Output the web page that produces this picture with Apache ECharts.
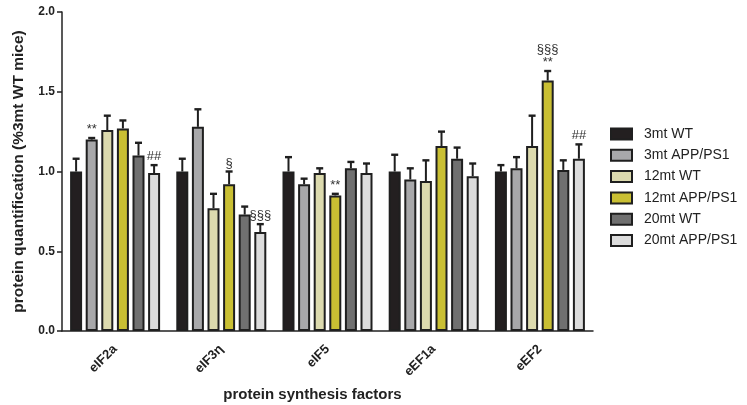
<!DOCTYPE html>
<html><head><meta charset="utf-8">
<script src="https://cdn.jsdelivr.net/npm/echarts@6/dist/echarts.min.js"></script>
<style>html,body{margin:0;padding:0;background:#fff}#c{width:747px;height:405px}</style>
</head><body><div id="c"></div>
<script>
const categories = ['eIF2a', 'eIF3η', 'eIF5', 'eEF1a', 'eEF2'];
const groups = ['3mt WT', '3mt APP/PS1', '12mt WT', '12mt APP/PS1', '20mt WT', '20mt APP/PS1'];
const values_3mtWT     = [1.00, 1.00, 1.00, 1.00, 1.00];
const values_3mtAPP    = [1.20, 1.28, 0.92, 0.95, 1.02];
const values_12mtWT    = [1.26, 0.77, 0.99, 0.94, 1.16];
const values_12mtAPP   = [1.27, 0.92, 0.85, 1.16, 1.57];
const values_20mtWT    = [1.10, 0.73, 1.02, 1.08, 1.01];
const values_20mtAPP   = [0.99, 0.62, 0.99, 0.97, 1.08];
const err_3mtWT   = [0.08, 0.08, 0.09, 0.105, 0.04];
const err_3mtAPP  = [0.01, 0.11, 0.035, 0.07, 0.07];
const err_12mtWT  = [0.09, 0.09, 0.03, 0.13, 0.19];
const err_12mtAPP = [0.05, 0.08, 0.01, 0.09, 0.06];
const err_20mtWT  = [0.08, 0.05, 0.04, 0.07, 0.06];
const err_20mtAPP = [0.05, 0.05, 0.06, 0.08, 0.09];
const notes_3mtWT   = ['', '', '', '', ''];
const notes_3mtAPP  = ['**', '', '', '', ''];
const notes_12mtWT  = ['', '', '', '', ''];
const notes_12mtAPP = ['', '§', '**', '', '§§§\n**'];
const notes_20mtWT  = ['', '', '', '', ''];
const notes_20mtAPP = ['##', '§§§', '', '', '##'];

const allValues = [values_3mtWT, values_3mtAPP, values_12mtWT, values_12mtAPP, values_20mtWT, values_20mtAPP];
const allErr = [err_3mtWT, err_3mtAPP, err_12mtWT, err_12mtAPP, err_20mtWT, err_20mtAPP];
const allNotes = [notes_3mtWT, notes_3mtAPP, notes_12mtWT, notes_12mtAPP, notes_20mtWT, notes_20mtAPP];
const colors = ['#231f20', '#a8a8aa', '#dcdaae', '#c9bf33', '#707070', '#dcdcdc'];
const FONT = '"Liberation Sans", Arial, sans-serif';

const BAR_W = 12, STEP = 15.6;
const series = [];
groups.forEach((g, i) => {
  series.push({
    name: g, type: 'bar', barWidth: BAR_W, barGap: ((STEP - BAR_W) / BAR_W * 100) + '%',
    itemStyle: { color: colors[i], borderColor: '#1f1f1f', borderWidth: 2 },
    data: allValues[i], z: 2
  });
});
groups.forEach((g, i) => {
  series.push({
    type: 'custom', z: 3, silent: true,
    data: categories.map((c, j) => [j, allValues[i][j], allErr[i][j]]),
    renderItem: function (params, api) {
      const j = api.value(0);
      const v = api.value(1), e = api.value(2);
      const note = allNotes[i][j];
      const p0 = api.coord([j, v]);
      const p1 = api.coord([j, v + e]);
      const x = p0[0] + (i - 2.5) * STEP;
      const children = [
        { type: 'line', shape: { x1: x, y1: p0[1], x2: x, y2: p1[1] }, style: { stroke: '#1f1f1f', lineWidth: 2 } },
        { type: 'line', shape: { x1: x - 3.5, y1: p1[1], x2: x + 3.5, y2: p1[1] }, style: { stroke: '#1f1f1f', lineWidth: 2.4 } }
      ];
      if (note) {
        children.push({ type: 'text', style: { text: note, x: x, y: p1[1] - 2, align: 'center', verticalAlign: 'bottom',
          font: '13px ' + FONT, fill: '#333', lineHeight: 13 } });
      }
      return { type: 'group', children: children };
    }
  });
});

const chart = echarts.init(document.getElementById('c'), null, { renderer: 'canvas' });
chart.setOption({
  animation: false,
  textStyle: { fontFamily: FONT },
  grid: { left: 62, right: 154, top: 12, bottom: 74, containLabel: false, outerBoundsMode: 'none' },
  legend: {
    data: groups, orient: 'vertical', left: 605, top: 122, itemWidth: 21, itemHeight: 11, itemGap: 7.3,
    textStyle: { fontSize: 14, color: '#222', fontFamily: FONT, padding: [0, 0, 0, 7] },
    icon: 'rect'
  },
  xAxis: {
    type: 'category', data: categories,
    axisLine: { lineStyle: { color: '#222', width: 1.5 } },
    axisTick: { alignWithLabel: true, length: 6, lineStyle: { color: '#222', width: 1.5 } },
    axisLabel: { rotate: 45, fontWeight: 'bold', fontSize: 13, color: '#222', margin: 16 },
    name: 'protein synthesis factors', nameLocation: 'middle', nameGap: 56,
    nameTextStyle: { fontWeight: 'bold', fontSize: 15, color: '#222', padding: [0, 30, 0, 0] }
  },
  yAxis: {
    type: 'value', min: 0, max: 2, interval: 0.5,
    axisLine: { show: true, lineStyle: { color: '#222', width: 1.5 } },
    axisTick: { show: true, length: 5, lineStyle: { color: '#222', width: 1.5 } },
    splitLine: { show: false },
    axisLabel: { fontWeight: 'bold', fontSize: 12, color: '#222', margin: 7, formatter: v => v.toFixed(1) },
    name: 'protein quantification (%3mt WT mice)', nameLocation: 'middle', nameGap: 35,
    nameTextStyle: { fontWeight: 'bold', fontSize: 15.5, color: '#222' }
  },
  series: series
});
</script></body></html>
